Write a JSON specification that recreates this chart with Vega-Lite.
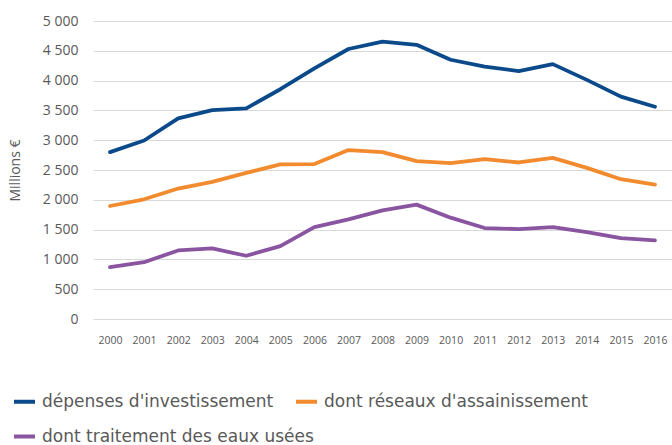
{
  "$schema": "https://vega.github.io/schema/vega-lite/v6.json",
  "autosize": "none",
  "width": 579,
  "height": 298,
  "padding": {"left": 93, "top": 21, "right": 0, "bottom": 126},
  "background": "white",
  "config": {
    "view": {"stroke": null},
    "font": "Open Sans",
    "axis": {"labelFont": "Open Sans", "titleFont": "Open Sans", "labelColor": "#595959", "titleColor": "#595959"},
    "legend": {
      "labelFont": "DejaVu Sans", "title": null, "orient": "none", "direction": "horizontal",
      "symbolType": "stroke", "symbolSize": 441, "symbolStrokeWidth": 4,
      "labelFontSize": 17, "labelColor": "#595959", "labelOffset": 5, "labelLimit": 400,
      "columnPadding": 14
    }
  },
  "data": {"values": [
    {"year": "2000", "s": "dépenses d'investissement", "v": 2800},
    {"year": "2001", "s": "dépenses d'investissement", "v": 2995},
    {"year": "2002", "s": "dépenses d'investissement", "v": 3367},
    {"year": "2003", "s": "dépenses d'investissement", "v": 3505},
    {"year": "2004", "s": "dépenses d'investissement", "v": 3535},
    {"year": "2005", "s": "dépenses d'investissement", "v": 3855},
    {"year": "2006", "s": "dépenses d'investissement", "v": 4205},
    {"year": "2007", "s": "dépenses d'investissement", "v": 4530},
    {"year": "2008", "s": "dépenses d'investissement", "v": 4655},
    {"year": "2009", "s": "dépenses d'investissement", "v": 4600},
    {"year": "2010", "s": "dépenses d'investissement", "v": 4350},
    {"year": "2011", "s": "dépenses d'investissement", "v": 4236},
    {"year": "2012", "s": "dépenses d'investissement", "v": 4160},
    {"year": "2013", "s": "dépenses d'investissement", "v": 4276},
    {"year": "2014", "s": "dépenses d'investissement", "v": 4012},
    {"year": "2015", "s": "dépenses d'investissement", "v": 3731},
    {"year": "2016", "s": "dépenses d'investissement", "v": 3562},
    {"year": "2000", "s": "dont réseaux d'assainissement", "v": 1896},
    {"year": "2001", "s": "dont réseaux d'assainissement", "v": 2009},
    {"year": "2002", "s": "dont réseaux d'assainissement", "v": 2189},
    {"year": "2003", "s": "dont réseaux d'assainissement", "v": 2300},
    {"year": "2004", "s": "dont réseaux d'assainissement", "v": 2451},
    {"year": "2005", "s": "dont réseaux d'assainissement", "v": 2593},
    {"year": "2006", "s": "dont réseaux d'assainissement", "v": 2600},
    {"year": "2007", "s": "dont réseaux d'assainissement", "v": 2834},
    {"year": "2008", "s": "dont réseaux d'assainissement", "v": 2800},
    {"year": "2009", "s": "dont réseaux d'assainissement", "v": 2648},
    {"year": "2010", "s": "dont réseaux d'assainissement", "v": 2615},
    {"year": "2011", "s": "dont réseaux d'assainissement", "v": 2682},
    {"year": "2012", "s": "dont réseaux d'assainissement", "v": 2626},
    {"year": "2013", "s": "dont réseaux d'assainissement", "v": 2704},
    {"year": "2014", "s": "dont réseaux d'assainissement", "v": 2536},
    {"year": "2015", "s": "dont réseaux d'assainissement", "v": 2345},
    {"year": "2016", "s": "dont réseaux d'assainissement", "v": 2256},
    {"year": "2000", "s": "dont traitement des eaux usées", "v": 869},
    {"year": "2001", "s": "dont traitement des eaux usées", "v": 953},
    {"year": "2002", "s": "dont traitement des eaux usées", "v": 1150},
    {"year": "2003", "s": "dont traitement des eaux usées", "v": 1184},
    {"year": "2004", "s": "dont traitement des eaux usées", "v": 1061},
    {"year": "2005", "s": "dont traitement des eaux usées", "v": 1223},
    {"year": "2006", "s": "dont traitement des eaux usées", "v": 1542},
    {"year": "2007", "s": "dont traitement des eaux usées", "v": 1672},
    {"year": "2008", "s": "dont traitement des eaux usées", "v": 1824},
    {"year": "2009", "s": "dont traitement des eaux usées", "v": 1919},
    {"year": "2010", "s": "dont traitement des eaux usées", "v": 1700},
    {"year": "2011", "s": "dont traitement des eaux usées", "v": 1526},
    {"year": "2012", "s": "dont traitement des eaux usées", "v": 1509},
    {"year": "2013", "s": "dont traitement des eaux usées", "v": 1542},
    {"year": "2014", "s": "dont traitement des eaux usées", "v": 1458},
    {"year": "2015", "s": "dont traitement des eaux usées", "v": 1357},
    {"year": "2016", "s": "dont traitement des eaux usées", "v": 1318}
  ]},
  "encoding": {
    "x": {
      "field": "year", "type": "ordinal",
      "scale": {"type": "point", "padding": 0.5},
      "axis": {"title": null, "labelAngle": 0, "domain": false, "ticks": false, "labelPadding": 16, "labelFontSize": 10.5, "grid": false}
    },
    "y": {
      "field": "v", "type": "quantitative",
      "scale": {"domain": [0, 5000], "nice": false},
      "axis": {
        "title": "Millions €", "titleFontSize": 14, "titleFontWeight": "normal", "titleX": -71, "titleY": 149,
        "values": [0, 500, 1000, 1500, 2000, 2500, 3000, 3500, 4000, 4500, 5000],
        "labelExpr": "replace(format(datum.value, ','), ',', ' ')",
        "labelFontSize": 14, "labelPadding": 15, "domain": false, "ticks": false,
        "grid": true, "gridColor": "#d9d9d9", "gridWidth": 1.2
      }
    }
  },
  "layer": [
    {
      "transform": [{"filter": "datum.s !== 'dont traitement des eaux usées'"}],
      "mark": {"type": "line", "strokeWidth": 3.8, "strokeCap": "round", "strokeJoin": "round"},
      "encoding": {
        "color": {
          "field": "s", "type": "nominal",
          "scale": {"domain": ["dépenses d'investissement", "dont réseaux d'assainissement"], "range": ["#0b4a8a", "#f28a2e"]},
          "legend": {"legendX": -81, "legendY": 368}
        }
      }
    },
    {
      "transform": [{"filter": "datum.s === 'dont traitement des eaux usées'"}],
      "mark": {"type": "line", "strokeWidth": 3.8, "strokeCap": "round", "strokeJoin": "round"},
      "encoding": {
        "color": {
          "field": "s", "type": "nominal",
          "scale": {"domain": ["dont traitement des eaux usées"], "range": ["#8a55a0"]},
          "legend": {"legendX": -81, "legendY": 403}
        }
      }
    }
  ],
  "resolve": {"scale": {"color": "independent"}, "legend": {"color": "independent"}}
}
